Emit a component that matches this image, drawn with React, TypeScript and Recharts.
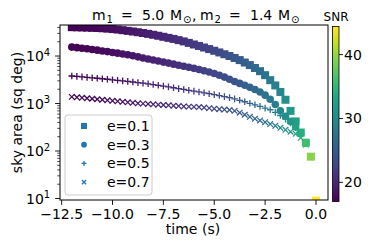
import { ScatterChart, Scatter, XAxis, YAxis } from 'recharts';

const times = [
  -12, -11.75, -11.5, -11.25, -11, -10.75, -10.5, -10.25, -10, -9.75, -9.5, -9.25, -9, -8.75, -8.5, -8.25,
  -8, -7.75, -7.5, -7.25, -7, -6.75, -6.5, -6.25, -6, -5.75, -5.5, -5.25, -5, -4.75, -4.5, -4.25,
  -4, -3.75, -3.5, -3.25, -3, -2.75, -2.5, -2.25, -2, -1.75, -1.5, -1.25, -1, -0.75, -0.5, -0.25, 0,
];

const snr = [
  17.0, 17.1, 17.2, 17.3, 17.4, 17.5, 17.7, 17.8, 18.0, 18.1, 18.3, 18.5, 18.7, 18.9, 19.1, 19.3,
  19.5, 19.7, 19.9, 20.2, 20.4, 20.7, 20.9, 21.2, 21.5, 21.8, 22.1, 22.4, 22.8, 23.1, 23.5, 23.9,
  24.3, 24.7, 25.2, 25.7, 26.2, 26.8, 27.4, 28.1, 28.8, 29.6, 30.5, 31.5, 32.6, 34.0, 36.0, 39.5, 44.4,
];

const areaE01 = [
  40500, 40300, 40000, 39700, 39300, 38900, 38400, 37800, 37000, 36100, 35000, 33900, 32800, 31700, 30500, 29300,
  28000, 26700, 25400, 24100, 22900, 21600, 20300, 18900, 17500, 16300, 15100, 14000, 12900, 11900, 10900, 10000,
  9100, 8200, 7300, 6450, 5600, 4800, 3950, 3100, 2400, 1750, 1200, 700, 420, 245, 150, 76, 9,
];

const areaE03 = [
  15400, 15000, 14600, 14200, 13700, 13300, 12800, 12400, 11900, 11500, 11000, 10600, 10100, 9600, 9100, 8650,
  8250, 7850, 7450, 7100, 6750, 6400, 6100, 5800, 5500, 5200, 4900, 4600, 4300, 3950, 3600, 3250,
  2900, 2650, 2420, 2200, 1980, 1750, 1500, 1230, 950, 700, 540, 420, 320, 230, 145,
];

const areaE05 = [
  3800, 3720, 3640, 3560, 3480, 3400, 3320, 3240, 3160, 3080, 3000, 2920, 2840, 2760, 2680, 2600,
  2510, 2420, 2330, 2240, 2150, 2060, 1980, 1900, 1820, 1750, 1680, 1610, 1540, 1470, 1400, 1330,
  1250, 1170, 1090, 1010, 940, 870, 800, 740, 650, 560, 470, 390, 310, 240, 150,
];

const areaE07 = [
  1380, 1350, 1320, 1290, 1260, 1230, 1200, 1170, 1140, 1110, 1085, 1060, 1035, 1010, 995, 980,
  960, 945, 930, 915, 900, 885, 870, 860, 850, 840, 820, 800, 780, 760, 745, 730,
  700, 640, 580, 525, 480, 440, 405, 370, 340, 308, 280, 255, 230, 190, 135,
];

const seriesNames = ['e=0.1', 'e=0.3', 'e=0.5', 'e=0.7'];
const xTicks = [-12.5, -10, -7.5, -5, -2.5, 0];
const yTicks = [
  10, 20, 30, 40, 50, 60, 70, 80, 90, 100, 200, 300, 400, 500, 600, 700, 800, 900,
  1000, 2000, 3000, 4000, 5000, 6000, 7000, 8000, 9000, 10000, 20000, 30000, 40000,
];
const cbarTicks = [20, 30, 40];

const VIRIDIS = [
  '#440154', '#482475', '#414487', '#355f8d', '#2a788e', '#21918c',
  '#22a884', '#44bf70', '#7ad151', '#bddf26', '#fde725',
];

const SNR_MIN = Math.min(...snr);
const SNR_MAX = Math.max(...snr);
const FONT = '"DejaVu Sans", sans-serif';

function hexToRgb(h: string) {
  return [1, 3, 5].map((i) => parseInt(h.slice(i, i + 2), 16));
}

function viridis(v: number) {
  const f = Math.max(0, Math.min(1, (v - SNR_MIN) / (SNR_MAX - SNR_MIN))) * (VIRIDIS.length - 1);
  const i = Math.min(Math.floor(f), VIRIDIS.length - 2);
  const a = hexToRgb(VIRIDIS[i]);
  const b = hexToRgb(VIRIDIS[i + 1]);
  const k = f - i;
  const c = a.map((x, j) => Math.round(x + (b[j] - x) * k));
  return `rgb(${c[0]},${c[1]},${c[2]})`;
}

const build = (vals: number[]) => vals.map((v, i) => ({ t: times[i], v, snr: snr[i] }));

type Kind = 'square' | 'circle' | 'plus' | 'x';

function marker(kind: Kind, cx: number, cy: number, color: string, s = 1) {
  if (kind === 'square') {
    const h = 4 * s;
    return <rect x={cx - h} y={cy - h} width={2 * h} height={2 * h} fill={color} />;
  }
  if (kind === 'circle') return <circle cx={cx} cy={cy} r={3.8 * s} fill={color} />;
  if (kind === 'plus') {
    const h = 3.3 * s;
    return (
      <path d={`M${cx - h} ${cy}h${2 * h}M${cx} ${cy - h}v${2 * h}`} stroke={color} strokeWidth={1.3} fill="none" />
    );
  }
  const h = 2.8 * s;
  return (
    <path
      d={`M${cx - h} ${cy - h}L${cx + h} ${cy + h}M${cx - h} ${cy + h}L${cx + h} ${cy - h}`}
      stroke={color}
      strokeWidth={1.25}
      fill="none"
    />
  );
}

const shapeFor = (kind: Kind) => (p: any) => marker(kind, p.cx, p.cy, viridis(p.payload.snr));

const fmtX = (v: number) => (v === 0 ? '0.0' : v.toFixed(1).replace('-', '\u2212'));

function XTick({ x, y, payload }: any) {
  return (
    <g>
      <line x1={x} x2={x} y1={y} y2={y + 4.9} stroke="#000" strokeWidth={0.9} />
      <text x={x} y={y + 18.5} textAnchor="middle" fontSize={14} fontFamily={FONT} fill="#000">
        {fmtX(payload.value)}
      </text>
    </g>
  );
}

function YTick({ x, y, payload }: any) {
  const e = Math.log10(payload.value);
  const major = Math.abs(e - Math.round(e)) < 1e-6;
  return (
    <g>
      <line x1={x} x2={x - (major ? 4.9 : 2.8)} y1={y} y2={y} stroke="#000" strokeWidth={major ? 0.9 : 0.7} />
      {major && (
        <text x={x - 9.8} y={y + 5} textAnchor="end" fontSize={14} fontFamily={FONT} fill="#000">
          10
          <tspan dy={-5.5} fontSize={10}>
            {Math.round(e)}
          </tspan>
        </text>
      )}
    </g>
  );
}

const series: { name: string; data: number[]; kind: Kind }[] = [
  { name: seriesNames[0], data: areaE01, kind: 'square' },
  { name: seriesNames[1], data: areaE03, kind: 'circle' },
  { name: seriesNames[2], data: areaE05, kind: 'plus' },
  { name: seriesNames[3], data: areaE07, kind: 'x' },
];

// title pieces: text, x start, subscript?
const titleParts: [string, number, boolean][] = [
  ['m', 92, false],
  ['1', 106.5, true],
  ['=', 121, false],
  ['5.0', 142, false],
  ['M', 170, false],
  ['\u2299', 183, true],
  [',', 192, false],
  ['m', 200, false],
  ['2', 214.5, true],
  ['=', 229, false],
  ['1.4', 250, false],
  ['M', 278, false],
  ['\u2299', 291, true],
];

// plot box (px), must agree with chart margins below
const PL = 60;
const PR = 328;
const PT = 25;
const PB = 200;

// colorbar box
const CB_X = 332.5;
const CB_W = 6.5;
const CB_T = 26.5;
const CB_B = 201.5;
const cbY = (v: number) => CB_B - ((v - SNR_MIN) / (SNR_MAX - SNR_MIN)) * (CB_B - CB_T);

export default function App() {
  return (
    <div style={{ position: 'absolute', left: 0, top: 0, width: 374, height: 249, background: '#fff' }}>
      <ScatterChart width={374} height={249} margin={{ top: PT, right: 374 - PR, bottom: 0, left: 0 }}>
        <XAxis
          type="number"
          dataKey="t"
          domain={[-12.58, 0.59]}
          ticks={xTicks}
          interval={0}
          allowDataOverflow
          axisLine={false}
          tickLine={false}
          tickSize={0}
          tickMargin={0}
          height={249 - PB}
          tick={(p: any) => <XTick {...p} />}
        />
        <YAxis
          type="number"
          dataKey="v"
          scale="log"
          domain={[9.3, 45000]}
          ticks={yTicks}
          interval={0}
          allowDataOverflow
          axisLine={false}
          tickLine={false}
          tickSize={0}
          tickMargin={0}
          width={PL}
          tick={(p: any) => <YTick {...p} />}
        />
        {series.map((s) => (
          <Scatter
            key={s.name}
            name={s.name}
            data={build(s.data)}
            isAnimationActive={false}
            shape={shapeFor(s.kind)}
          />
        ))}
      </ScatterChart>

      <svg width={374} height={249} style={{ position: 'absolute', left: 0, top: 0, pointerEvents: 'none' }}>
        <defs>
          <linearGradient id="viridis" x1="0" y1="1" x2="0" y2="0">
            {VIRIDIS.map((c, i) => (
              <stop key={i} offset={i / (VIRIDIS.length - 1)} stopColor={c} />
            ))}
          </linearGradient>
        </defs>
        <rect x={PL} y={PT} width={PR - PL} height={PB - PT} fill="none" stroke="#000" strokeWidth={1} />

        <text fontSize={14} fontFamily={FONT} fill="#000">
          {titleParts.map(([s, x, sub], i) => (
            <tspan key={i} x={x} y={sub ? 23 : 20} fontSize={sub ? 10 : 14}>
              {s}
            </tspan>
          ))}
        </text>

        <text x={193} y={234} textAnchor="middle" fontSize={14} fontFamily={FONT} fill="#000">
          time (s)
        </text>
        <text
          x={0}
          y={0}
          transform={`translate(22, ${(PT + PB) / 2}) rotate(-90)`}
          textAnchor="middle"
          fontSize={14}
          fontFamily={FONT}
          fill="#000"
        >
          sky area (sq deg)
        </text>

        {/* legend */}
        <rect x={65} y={115} width={87} height={80} rx={3} fill="#fff" fillOpacity={0.8} stroke="#cccccc" strokeWidth={1} />
        {series.map((s, i) => {
          const cy = 126 + i * 18.7;
          return (
            <g key={s.name}>
              {marker(s.kind, 84, cy, '#1f77b4', 0.75)}
              <text x={107} y={cy + 5} fontSize={14} fontFamily={FONT} fill="#000">
                {s.name}
              </text>
            </g>
          );
        })}

        {/* colorbar */}
        <rect x={CB_X} y={CB_T} width={CB_W} height={CB_B - CB_T} fill="url(#viridis)" stroke="#000" strokeWidth={0.8} />
        {cbarTicks.map((v) => (
          <g key={v}>
            <line x1={CB_X + CB_W} x2={CB_X + CB_W + 4} y1={cbY(v)} y2={cbY(v)} stroke="#000" strokeWidth={0.9} />
            <text x={344} y={cbY(v) + 5} fontSize={14} fontFamily={FONT} fill="#000">
              {v}
            </text>
          </g>
        ))}
        <text x={336} y={21} textAnchor="middle" fontSize={12} fontFamily={FONT} fill="#000">
          SNR
        </text>
      </svg>
    </div>
  );
}
